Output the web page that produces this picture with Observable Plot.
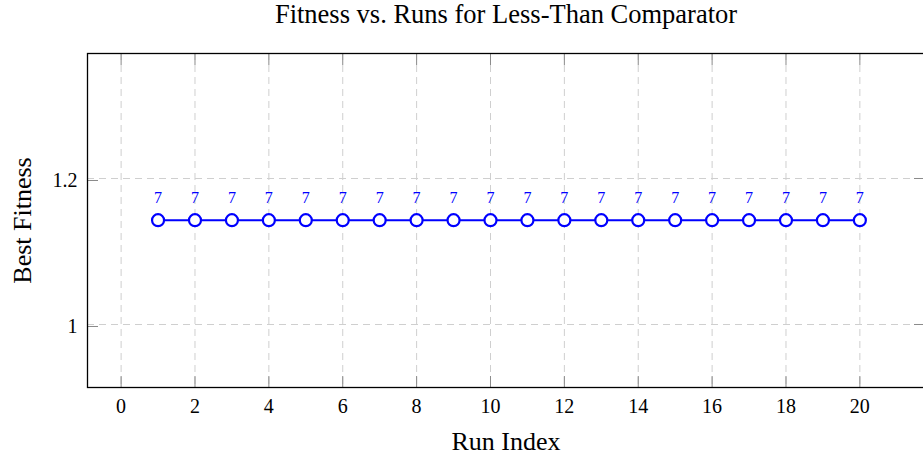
<!DOCTYPE html>
<html>
<head>
<meta charset="utf-8">
<script src="https://cdn.jsdelivr.net/npm/d3@7"></script>
<script src="https://cdn.jsdelivr.net/npm/@observablehq/plot@0.6"></script>
<style>
  html, body { margin: 0; padding: 0; background: white; }
</style>
</head>
<body>
<div id="chart"></div>
<script>
const runs = [1, 2, 3, 4, 5, 6, 7, 8, 9, 10, 11, 12, 13, 14, 15, 16, 17, 18, 19, 20];
const fitness = [1.142857, 1.142857, 1.142857, 1.142857, 1.142857, 1.142857, 1.142857, 1.142857, 1.142857, 1.142857,
                 1.142857, 1.142857, 1.142857, 1.142857, 1.142857, 1.142857, 1.142857, 1.142857, 1.142857, 1.142857];
const pointLabels = ["7", "7", "7", "7", "7", "7", "7", "7", "7", "7", "7", "7", "7", "7", "7", "7", "7", "7", "7", "7"];
const xTicks = [0, 2, 4, 6, 8, 10, 12, 14, 16, 18, 20];
const yTicks = [1, 1.2];
const yTickLabels = ["1", "1.2"];
const title = "Fitness vs. Runs for Less-Than Comparator";
const xLabel = "Run Index";
const yLabel = "Best Fitness";

const data = runs.map((r, i) => ({run: r, fitness: fitness[i], label: pointLabels[i]}));
const blue = "#0000ff";
const gridStyle = {stroke: "#cfcfcf", strokeOpacity: 1, strokeDasharray: "7,5", strokeWidth: 1};
const tickStroke = "#8a8a8a";

const chart = Plot.plot({
  width: 923,
  height: 460,
  marginLeft: 87,
  marginRight: -1,
  marginTop: 53,
  marginBottom: 73,
  style: {fontFamily: "'Liberation Serif', serif", fontSize: "20px", background: "white", color: "black"},
  x: {domain: [-0.91, 21.75]},
  y: {domain: [0.9137, 1.3712]},
  marks: [
    Plot.gridX(xTicks, gridStyle),
    Plot.gridY(yTicks, gridStyle),
    Plot.axisX(xTicks, {anchor: "bottom", tickSize: -11, tickPadding: 22, stroke: tickStroke, fill: "black", fontSize: 20, label: null}),
    Plot.axisX(xTicks, {anchor: "top", tickSize: -11, tickFormat: () => "", stroke: tickStroke, label: null}),
    Plot.axisY(yTicks, {anchor: "left", tickSize: -11, tickPadding: 21, dy: 2, stroke: tickStroke, fill: "black", fontSize: 20,
      tickFormat: d => yTickLabels[yTicks.indexOf(d)], label: null}),
    Plot.axisY(yTicks, {anchor: "right", tickSize: -11, tickFormat: () => "", stroke: tickStroke, label: null}),
    Plot.frame({stroke: "black", strokeWidth: 1.3}),
    Plot.lineY(data, {x: "run", y: "fitness", stroke: blue, strokeWidth: 2}),
    Plot.dot(data, {x: "run", y: "fitness", r: 6, stroke: blue, fill: "white", strokeWidth: 2.2}),
    Plot.text(data, {x: "run", y: "fitness", text: "label", dy: -22, fill: blue, fontSize: 16}),
    Plot.text([title], {frameAnchor: "top", textAnchor: "middle", lineAnchor: "bottom", dy: -31, fontSize: 26.5, fill: "black"}),
    Plot.text([xLabel], {frameAnchor: "bottom", textAnchor: "middle", lineAnchor: "bottom", dy: 62, fontSize: 26, fill: "black"}),
    Plot.text([yLabel], {frameAnchor: "left", textAnchor: "middle", lineAnchor: "bottom", rotate: -90, dx: -57, fontSize: 26, fill: "black"})
  ]
});
document.getElementById("chart").appendChild(chart);
</script>
</body>
</html>
